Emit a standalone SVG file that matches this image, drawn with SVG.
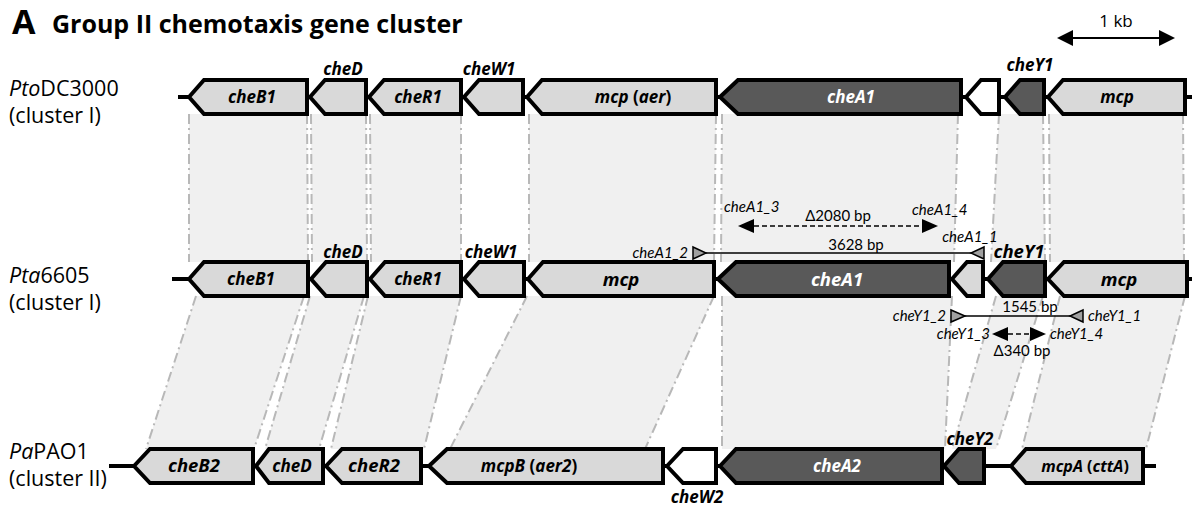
<svg xmlns="http://www.w3.org/2000/svg" width="1192" height="506" viewBox="0 0 1192 506">
  <style>
    .band { fill: #f0f0f0; stroke: none; }
    .edge { stroke: #b8b8b8; stroke-width: 2; fill: none; stroke-dasharray: 10 4 2 4; }
    .dna { stroke: #000; stroke-width: 4; fill: none; }
    .gene { stroke: #000; stroke-width: 4; stroke-linejoin: miter; }
    .light { fill: #d9d9d9; }
    .dark { fill: #595959; }
    .blank { fill: #ffffff; }
    .gl { font-family: "Open Sans", Lato, sans-serif; font-weight: bold; font-style: italic; font-size: 17px; text-anchor: middle; fill: #000; }
    .gw { fill: #fff; }
    .big { font-size: 18.5px; }
    .sm { font-size: 16px; }
    .up { font-style: normal; }
    .row { font-family: "Open Sans", Lato, sans-serif; font-size: 21.5px; fill: #000; }
    .it { font-style: italic; }
    .pr { font-family: Lato, "Open Sans", sans-serif; font-style: italic; font-size: 15px; fill: #000; }
    .bp { font-family: Lato, "Open Sans", sans-serif; font-size: 15px; fill: #000; text-anchor: middle; }
    .tri { fill: #a0a0a0; stroke: #000; stroke-width: 1.5; }
    .head { fill: #000; }
  </style>

  <!-- title -->
  <text x="12" y="34" font-family="'Open Sans', Lato, sans-serif" font-weight="bold" font-size="34px">A</text>
  <text x="52" y="33" font-family="'Open Sans', Lato, sans-serif" font-weight="bold" font-size="25px">Group II chemotaxis gene cluster</text>

  <!-- scale bar -->
  <g id="scale">
    <text x="1116" y="27" font-family="'Open Sans', Lato, sans-serif" font-size="17px" text-anchor="middle">1 kb</text>
    <line x1="1070" y1="38" x2="1162" y2="38" stroke="#000" stroke-width="2"/>
    <polygon class="head" points="1057,38 1073,30 1073,46"/>
    <polygon class="head" points="1175,38 1159,30 1159,46"/>
  </g>

  <!-- homology bands between strains -->
  <g id="connectors">
    <!-- cluster I (DC3000) to cluster I (6605) -->
    <polygon class="band" points="189,114 307,114 308,262 189,262"/>
    <polygon class="band" points="311,114 366,114 367,262 312,262"/>
    <polygon class="band" points="370,114 461,114 461,262 371,262"/>
    <polygon class="band" points="529,114 716,114 714,262 529,262"/>
    <polygon class="band" points="722,114 958,114 954,262 721,262"/>
    <polygon class="band" points="999,114 1043,114 1045,262 991,262"/>
    <polygon class="band" points="1049,114 1183,114 1184,262 1050,262"/>
    <line class="edge" x1="189" y1="114" x2="189" y2="262"/>
    <line class="edge" x1="307" y1="114" x2="308" y2="262"/>
    <line class="edge" x1="311" y1="114" x2="312" y2="262"/>
    <line class="edge" x1="366" y1="114" x2="367" y2="262"/>
    <line class="edge" x1="370" y1="114" x2="371" y2="262"/>
    <line class="edge" x1="461" y1="114" x2="461" y2="262"/>
    <line class="edge" x1="529" y1="114" x2="529" y2="262"/>
    <line class="edge" x1="716" y1="114" x2="714" y2="262"/>
    <line class="edge" x1="722" y1="114" x2="721" y2="262"/>
    <line class="edge" x1="958" y1="114" x2="954" y2="262"/>
    <line class="edge" x1="999" y1="114" x2="991" y2="262"/>
    <line class="edge" x1="1043" y1="114" x2="1045" y2="262"/>
    <line class="edge" x1="1049" y1="114" x2="1050" y2="262"/>
    <line class="edge" x1="1183" y1="114" x2="1184" y2="262"/>

    <!-- cluster I (6605) to cluster II (PAO1) -->
    <polygon class="band" points="196,296 304,296 254,449 146,449"/>
    <polygon class="band" points="310,296 364,296 319,449 265,449"/>
    <polygon class="band" points="368,296 461,296 424,449 331,449"/>
    <polygon class="band" points="527,296 714,296 645,449 450,449"/>
    <polygon class="band" points="722,296 952,296 945,449 722,449"/>
    <polygon class="band" points="996,296 1043,296 996,449 952,449"/>
    <polygon class="band" points="1060,296 1185,296 1146,449 1022,449"/>
    <line class="edge" x1="196" y1="296" x2="146" y2="449"/>
    <line class="edge" x1="304" y1="296" x2="254" y2="449"/>
    <line class="edge" x1="310" y1="296" x2="265" y2="449"/>
    <line class="edge" x1="364" y1="296" x2="319" y2="449"/>
    <line class="edge" x1="368" y1="296" x2="331" y2="449"/>
    <line class="edge" x1="461" y1="296" x2="424" y2="449"/>
    <line class="edge" x1="527" y1="296" x2="450" y2="449"/>
    <line class="edge" x1="714" y1="296" x2="645" y2="449"/>
    <line class="edge" x1="722" y1="296" x2="722" y2="449"/>
    <line class="edge" x1="952" y1="296" x2="945" y2="449"/>
    <line class="edge" x1="996" y1="296" x2="952" y2="449"/>
    <line class="edge" x1="1043" y1="296" x2="996" y2="449"/>
    <line class="edge" x1="1060" y1="296" x2="1022" y2="449"/>
    <line class="edge" x1="1185" y1="296" x2="1146" y2="449"/>
  </g>

  <!-- Pto DC3000 -->
  <g id="row-dc3000">
    <text class="row" x="9" y="96"><tspan class="it">Pto</tspan>DC3000</text>
    <text class="row" x="9" y="123">(cluster I)</text>
    <line class="dna" x1="178" y1="97" x2="1192" y2="97"/>
    <g id="dc-cheB1"><path class="gene light" d="M189,97 L204,80 L307,80 L307,114 L204,114 Z"/><text class="gl" x="252" y="103">cheB1</text></g>
    <g id="dc-cheD"><path class="gene light" d="M310,97 L325,80 L366,80 L366,114 L325,114 Z"/><text class="gl" x="343" y="75">cheD</text></g>
    <g id="dc-cheR1"><path class="gene light" d="M369,97 L384,80 L461,80 L461,114 L384,114 Z"/><text class="gl" x="418" y="103">cheR1</text></g>
    <g id="dc-cheW1"><path class="gene light" d="M464,97 L479,80 L523,80 L523,114 L479,114 Z"/><text class="gl" x="489" y="75">cheW1</text></g>
    <g id="dc-mcp-aer"><path class="gene light" d="M527,97 L542,80 L716,80 L716,114 L542,114 Z"/><text class="gl" x="633" y="103">mcp <tspan class="up">(</tspan>aer<tspan class="up">)</tspan></text></g>
    <g id="dc-cheA1"><path class="gene dark" d="M720,97 L738,80 L961,80 L961,114 L738,114 Z"/><text class="gl gw" x="851" y="103">cheA1</text></g>
    <g id="dc-orf"><path class="gene blank" d="M966,97 L981,80 L999,80 L999,114 L981,114 Z"/></g>
    <g id="dc-cheY1"><path class="gene dark" d="M1005,97 L1020,80 L1044,80 L1044,114 L1020,114 Z"/><text class="gl" x="1030" y="71">cheY1</text></g>
    <g id="dc-mcp"><path class="gene light" d="M1048,97 L1063,80 L1185,80 L1185,114 L1063,114 Z"/><text class="gl" x="1117" y="103">mcp</text></g>
  </g>

  <!-- Pta 6605 -->
  <g id="row-6605">
    <text class="row" x="9" y="283"><tspan class="it">Pta</tspan>6605</text>
    <text class="row" x="9" y="310">(cluster I)</text>
    <line class="dna" x1="172" y1="279" x2="1192" y2="279"/>
    <g id="ta-cheB1"><path class="gene light" d="M189,279 L204,262 L308,262 L308,296 L204,296 Z"/><text class="gl" x="251" y="285">cheB1</text></g>
    <g id="ta-cheD"><path class="gene light" d="M311,279 L326,262 L367,262 L367,296 L326,296 Z"/><text class="gl" x="343" y="258">cheD</text></g>
    <g id="ta-cheR1"><path class="gene light" d="M370,279 L385,262 L461,262 L461,296 L385,296 Z"/><text class="gl" x="418" y="285">cheR1</text></g>
    <g id="ta-cheW1"><path class="gene light" d="M464,279 L479,262 L524,262 L524,296 L479,296 Z"/><text class="gl" x="491" y="258">cheW1</text></g>
    <g id="ta-mcp"><path class="gene light" d="M528,279 L543,262 L714,262 L714,296 L543,296 Z"/><text class="gl big" x="621" y="286">mcp</text></g>
    <g id="ta-cheA1"><path class="gene dark" d="M718,279 L736,262 L949,262 L949,296 L736,296 Z"/><text class="gl gw big" x="837" y="286">cheA1</text></g>
    <g id="ta-orf"><path class="gene light" d="M952,279 L967,262 L983,262 L983,296 L967,296 Z"/></g>
    <g id="ta-cheY1"><path class="gene dark" d="M988,279 L1003,262 L1045,262 L1045,296 L1003,296 Z"/><text class="gl big" x="1019" y="258">cheY1</text></g>
    <g id="ta-mcp2"><path class="gene light" d="M1048,279 L1064,262 L1187,262 L1187,296 L1064,296 Z"/><text class="gl big" x="1119" y="286">mcp</text></g>
  </g>

  <!-- primer pairs -->
  <g id="primers-cheA1">
    <text class="pr" x="688" y="258" text-anchor="end">cheA1_2</text>
    <line x1="705" y1="253" x2="972" y2="253" stroke="#000" stroke-width="1.5"/>
    <polygon class="tri" points="693,247 693,259 706,253"/>
    <polygon class="tri" points="984,247 984,259 971,253"/>
    <text class="pr" x="970" y="242" text-anchor="middle">cheA1_1</text>
    <text class="bp" x="856" y="250">3628 bp</text>
    <line x1="754" y1="226" x2="922" y2="226" stroke="#000" stroke-width="1.5" stroke-dasharray="5 3"/>
    <polygon class="head" points="738,226 754,219 754,233"/>
    <polygon class="head" points="938,226 922,219 922,233"/>
    <text class="pr" x="724" y="212">cheA1_3</text>
    <text class="pr" x="912" y="215">cheA1_4</text>
    <text class="bp" x="838" y="221">Δ2080 bp</text>
  </g>
  <g id="primers-cheY1">
    <text class="pr" x="946" y="321" text-anchor="end">cheY1_2</text>
    <line x1="964" y1="316" x2="1071" y2="316" stroke="#000" stroke-width="1.5"/>
    <polygon class="tri" points="951,310 951,322 965,316"/>
    <polygon class="tri" points="1083,310 1083,322 1070,316"/>
    <text class="pr" x="1088" y="321">cheY1_1</text>
    <text class="bp" x="1030" y="312">1545 bp</text>
    <line x1="1008" y1="334" x2="1030" y2="334" stroke="#000" stroke-width="1.5" stroke-dasharray="5 3"/>
    <polygon class="head" points="992,334 1008,327 1008,341"/>
    <polygon class="head" points="1046,334 1030,327 1030,341"/>
    <text class="pr" x="990" y="339" text-anchor="end">cheY1_3</text>
    <text class="pr" x="1050" y="339">cheY1_4</text>
    <text class="bp" x="1022" y="356">Δ340 bp</text>
  </g>

  <!-- Pa PAO1 -->
  <g id="row-pao1">
    <text class="row" x="9" y="459"><tspan class="it">Pa</tspan>PAO1</text>
    <text class="row" x="9" y="486">(cluster II)</text>
    <line class="dna" x1="109" y1="466" x2="1156" y2="466"/>
    <g id="pa-cheB2"><path class="gene light" d="M134,466 L150,449 L253,449 L253,483 L150,483 Z"/><text class="gl big" x="194" y="472">cheB2</text></g>
    <g id="pa-cheD"><path class="gene light" d="M256,466 L269,449 L323,449 L323,483 L269,483 Z"/><text class="gl" x="292" y="472">cheD</text></g>
    <g id="pa-cheR2"><path class="gene light" d="M326,466 L342,449 L421,449 L421,483 L342,483 Z"/><text class="gl big" x="374" y="472">cheR2</text></g>
    <g id="pa-mcpB"><path class="gene light" d="M429,466 L447,449 L663,449 L663,483 L447,483 Z"/><text class="gl" x="529" y="472">mcpB <tspan class="up">(</tspan>aer2<tspan class="up">)</tspan></text></g>
    <g id="pa-cheW2"><path class="gene blank" d="M667,466 L683,449 L716,449 L716,483 L683,483 Z"/><text class="gl" x="697" y="503">cheW2</text></g>
    <g id="pa-cheA2"><path class="gene dark" d="M720,466 L736,449 L942,449 L942,483 L736,483 Z"/><text class="gl gw" x="837" y="472">cheA2</text></g>
    <g id="pa-cheY2"><path class="gene dark" d="M944,466 L959,449 L984,449 L984,483 L959,483 Z"/><text class="gl" x="970" y="445">cheY2</text></g>
    <g id="pa-mcpA"><path class="gene light" d="M1011,466 L1026,449 L1143,449 L1143,483 L1026,483 Z"/><text class="gl sm" x="1085" y="472">mcpA <tspan class="up">(</tspan>cttA<tspan class="up">)</tspan></text></g>
  </g>
</svg>
